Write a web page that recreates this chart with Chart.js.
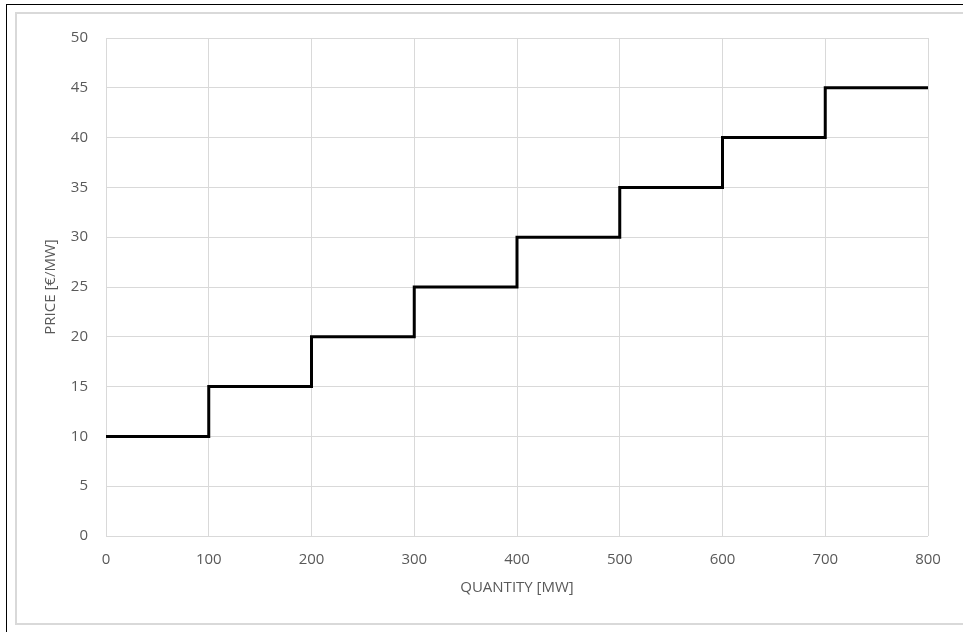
<!DOCTYPE html>
<html>
<head>
<meta charset="utf-8">
<script src="https://cdn.jsdelivr.net/npm/chart.js@4/dist/chart.umd.min.js"></script>
<style>
  html, body { margin: 0; padding: 0; background: #fff; overflow: hidden; }
  body { width: 963px; height: 632px; position: relative; }
  .outer { position: absolute; left: 6px; top: 4px; width: 1000px; height: 700px; border: 1.5px solid #000; box-sizing: border-box; }
  .inner { position: absolute; left: 15px; top: 12px; width: 1000px; height: 613px; border: 2px solid #d9d9d9; box-sizing: border-box; }
  #wrap { position: absolute; left: 0; top: 0; width: 963px; height: 632px; }
</style>
</head>
<body>
<div class="outer"></div>
<div class="inner"></div>
<div id="wrap"><canvas id="chart" width="963" height="632"></canvas></div>
<script>
  // Supply curve steps: quantity breakpoints (MW) and price (€/MW)
  var QUANTITY = [0, 100, 200, 300, 400, 500, 600, 700, 800];
  var PRICE = [10, 15, 20, 25, 30, 35, 40, 45, 45];
  var X_TICKS = [0, 100, 200, 300, 400, 500, 600, 700, 800];
  var Y_TICKS = [0, 5, 10, 15, 20, 25, 30, 35, 40, 45, 50];

  var FONT = { family: '"Open Sans", "Liberation Sans", sans-serif', size: 15 };
  var TEXT = '#595959';
  var GRID = '#d9d9d9';

  var points = QUANTITY.map(function (q, i) { return { x: q, y: PRICE[i] }; });

  new Chart(document.getElementById('chart'), {
    type: 'line',
    data: {
      datasets: [{
        label: 'Supply',
        data: points,
        stepped: 'before',
        borderColor: '#000',
        borderWidth: 3,
        pointRadius: 0,
        fill: false,
        borderCapStyle: 'butt',
        borderJoinStyle: 'miter'
      }]
    },
    options: {
      responsive: false,
      animation: false,
      layout: { padding: { left: 38, top: 38, right: 35, bottom: 31 } },
      plugins: { legend: { display: false }, tooltip: { enabled: false } },
      scales: {
        x: {
          type: 'linear',
          min: 0, max: 800,
          afterBuildTicks: function (s) { s.ticks = X_TICKS.map(function (v) { return { value: v }; }); },
          afterFit: function (s) { s.height = 65; },
          grid: { color: GRID, lineWidth: 1, drawTicks: false },
          border: { display: false },
          ticks: { color: TEXT, font: FONT, padding: 15, maxRotation: 0 },
          title: { display: true, text: 'QUANTITY [MW]', color: TEXT, font: FONT }
        },
        y: {
          min: 0, max: 50,
          afterBuildTicks: function (s) { s.ticks = Y_TICKS.map(function (v) { return { value: v }; }); },
          afterFit: function (s) { s.width = 68; },
          grid: { color: GRID, lineWidth: 1, drawTicks: false },
          border: { display: false },
          ticks: { color: TEXT, font: FONT, padding: 18 },
          title: { display: true, text: 'PRICE [€/MW]', color: TEXT, font: FONT }
        }
      }
    }
  });
</script>
</body>
</html>
